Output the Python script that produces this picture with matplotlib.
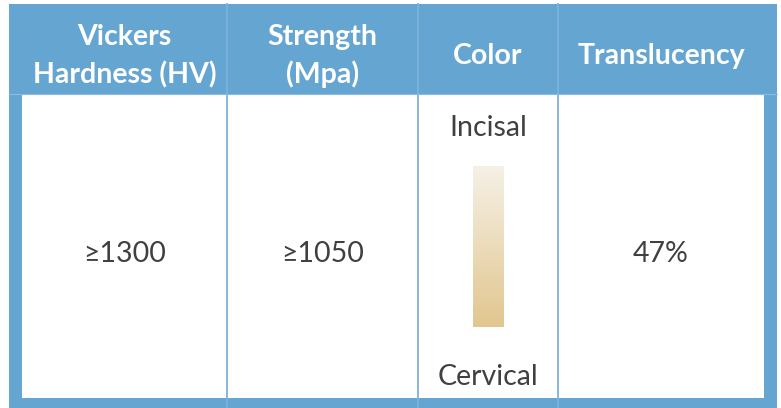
import numpy as np
import matplotlib.pyplot as plt
from matplotlib.colors import LinearSegmentedColormap

# table content
headers = ['Vickers\nHardness (HV)', 'Strength\n(Mpa)', 'Color', 'Translucency']
values = ['≥1300', '≥1050', None, '47%']
color_top_label = 'Incisal'
color_bottom_label = 'Cervical'
shade_colors = ['#F6F1E6', '#E1C68F']

# layout (pixel coords)
W, H = 781, 408
left, right, top, bottom = 9, 777, 4, 408
header_bottom = 94
body_left, body_right, body_bottom = 22, 764, 398
col_edges = [22, 227, 418, 558, 764]
blue = '#65A5D1'
line_col = '#7DB3DB'
text_col = '#404040'

fig = plt.figure(figsize=(W / 100, H / 100), dpi=100)
ax = fig.add_axes([0, 0, 1, 1])
ax.set_xlim(0, W)
ax.set_ylim(H, 0)
ax.axis('off')

# blue frame + header
ax.add_patch(plt.Rectangle((left, top), right - left, bottom - top,
                           facecolor=blue, edgecolor='none'))
# white body
ax.add_patch(plt.Rectangle((body_left, header_bottom), body_right - body_left,
                           body_bottom - header_bottom,
                           facecolor='white', edgecolor='none'))
# column separators
for x in col_edges[1:-1]:
    ax.plot([x, x], [top, bottom], color=line_col, lw=1.3)
ax.plot([left, right], [header_bottom, header_bottom], color='#8CBCE0', lw=0.8)

centers = [(a + b) / 2 for a, b in zip(col_edges[:-1], col_edges[1:])]
mid_y = (header_bottom + body_bottom) / 2

for cx, h, v in zip(centers, headers, values):
    ax.text(cx, 56, h, ha='center', va='center', color='white',
            fontsize=20.5, fontweight='bold', family='Lato', linespacing=1.5)
    if v is not None:
        ax.text(cx, mid_y + 8, v, ha='center', va='center', color=text_col,
                fontsize=20.5, family='Lato')

# color column: shade gradient
cx = centers[2]
ax.text(cx, 128, color_top_label, ha='center', va='center', color=text_col,
        fontsize=20.5, family='Lato')
ax.text(cx, 377, color_bottom_label, ha='center', va='center', color=text_col,
        fontsize=20.5, family='Lato')
cmap = LinearSegmentedColormap.from_list('shade', shade_colors)
grad = np.linspace(0, 1, 256).reshape(-1, 1)
ax.imshow(grad, cmap=cmap, aspect='auto', extent=[473, 504, 327, 166],
          interpolation='bilinear', zorder=3)
ax.set_xlim(0, W)
ax.set_ylim(H, 0)

fig.savefig('out.png', dpi=100, facecolor='white')
